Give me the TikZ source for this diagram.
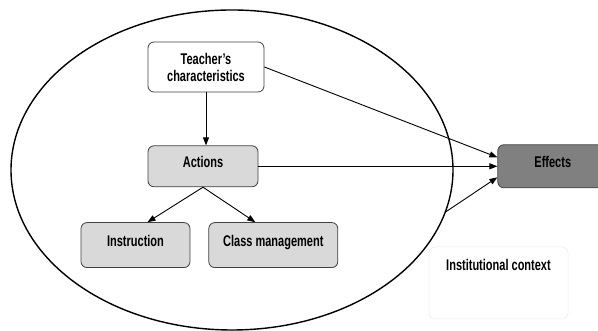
\documentclass[tikz,border=0pt]{standalone}
\usepackage{fontspec}
\setmainfont{Liberation Sans}[FakeStretch=0.71]
\usepackage{tikz}
\usetikzlibrary{shapes,arrows.meta,positioning}

\begin{document}
\begin{tikzpicture}[x=1pt, y=1pt,
		  every node/.style={draw=black!75, line width=0.8pt, rounded corners=6pt, align=center,
                font=\fontsize{15.5}{17}\selectfont\bfseries},
          box/.style={text height=11pt, text depth=8pt},
          to/.style={-{Triangle[length=8pt,width=6pt]}, line width=0.9pt},
		]
            \useasboundingbox (0,0) rectangle (598,331);
			\draw node[ellipse, draw=black, line width=1.4pt, minimum width=442pt, minimum height=320pt]
                (scope) at (232,161) {};
			\draw node[fill=white, minimum width=116pt, minimum height=50pt] (teacher) at (206,264)
                {Teacher's\\characteristics};
			\draw node[box, fill=gray!30, minimum width=110pt, minimum height=41pt,
                below right=53pt and 0pt of teacher.south west] (actions) {Actions};
			\draw node[box, fill=gray!30, minimum width=109pt, minimum height=45pt,
                below=35pt of actions, xshift=-67.5pt] (instruction) {Instruction};
			\draw node[box, fill=gray!30, minimum width=129pt, minimum height=45pt,
                right=18pt of instruction] (classmgmt) {Class management};
			\draw node[box, fill=gray, minimum width=110pt, minimum height=43pt,
                right=239pt of actions] (effects) {Effects};
			\draw node[draw=black!8, line width=0.5pt, minimum width=139pt, minimum height=72pt,
                text height=11pt, text depth=36pt] (context) at (498.5,48) {Institutional context};
            \draw[to] (teacher.south) -- (teacher.south |- actions.north);
            \draw[to] (actions.south) -- ([xshift=12pt]instruction.north);
            \draw[to] (actions.south) -- ([xshift=-18pt]classmgmt.north);
            \draw[to] (teacher.east) -- ([yshift=9pt]effects.west);
            \draw[to] (actions.east) -- (actions.east -| effects.west);
            \draw[to] (scope.-11.4) -- ([yshift=-11pt]effects.west);

		 \end{tikzpicture}
\end{document}
